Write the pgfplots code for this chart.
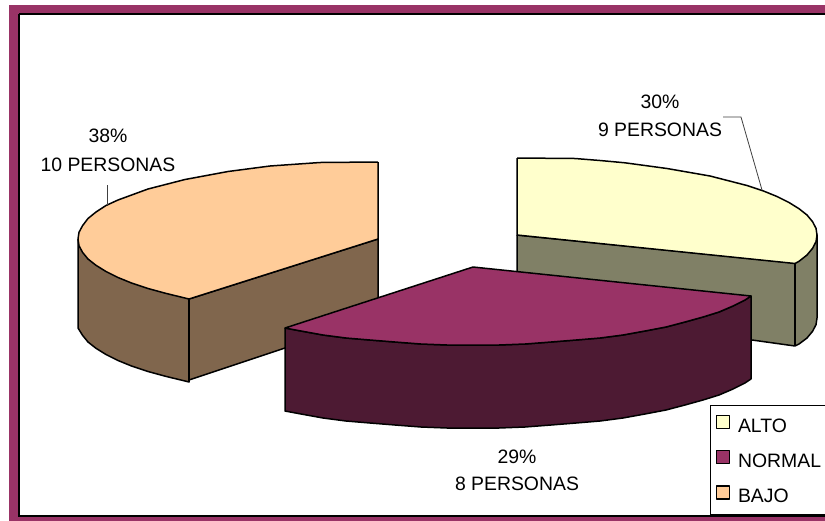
\documentclass[border=0pt]{standalone}
\usepackage{pgfplots}
\pgfplotsset{compat=1.18}
\usepackage{fontspec}
\setmainfont{Liberation Sans}
\definecolor{frameC}{HTML}{993366}
\definecolor{altoTop}{HTML}{FFFFCC}
\definecolor{altoSide}{HTML}{808066}
\definecolor{normalTop}{HTML}{993366}
\definecolor{normalSide}{HTML}{4D1A33}
\definecolor{bajoTop}{HTML}{FFCC99}
\definecolor{bajoSide}{HTML}{80664D}
\newcommand{\lab}{\fontsize{19.4}{23}\selectfont}
\pgfplotsset{
  swatch/.style={
    legend image code/.code={
      \draw[##1,line width=1.6pt] (0pt,-1.5pt) rectangle (13pt,11.5pt);
      \path (19pt,0pt);
    }
  },
  face/.style={mark=none,draw=black,line width=1.5pt,line join=round},
  leader/.style={mark=none,draw=black!75,line width=0.8pt,forget plot}
}
\begin{document}
\begin{tikzpicture}[x=1pt,y=1pt]
\path[use as bounding box] (0,0) rectangle (825pt,520pt);
\begin{axis}[
  at={(0,0)},anchor=south west,
  scale only axis,width=825pt,height=520pt,
  xmin=0,xmax=825,ymin=0,ymax=520,y dir=reverse,
  hide axis,
  legend cell align=left,
  legend style={
    at={(axis cs:710,405)},anchor=north west,
    draw=black,line width=1pt,fill=white,
    inner xsep=5pt,inner ysep=9pt,
    font=\lab,row sep=14.5pt,
    nodes={inner xsep=2pt,inner ysep=0pt,text height=14pt,text depth=3pt}
  }
]
% Chart frame
\addplot[mark=none,draw=none,fill=frameC,forget plot] coordinates {(9,5)(830,5)(830,525)(9,525)(9,5)};
\addplot[mark=none,draw=black,line width=2pt,fill=white,forget plot] coordinates {(19,14)(840,14)(840,516)(19,516)(19,14)};

% BAJO, side walls
\addplot[face,fill=bajoSide,forget plot] coordinates {
 (78,239)(78,328)(82.6,335.4)(88,342)(96,348.3)(106,354.5)(118,360.5)(132,366.2)(148,371.5)(166,376.4)(185,381)(189,382)
 (189,380)(378,317)(378,239)(189,299)(78,239)};
\addplot[face,forget plot] coordinates {(189,299)(189,382)};
% ALTO, side walls
\addplot[face,fill=altoSide,forget plot] coordinates {
 (517,235)(517,320)(752,340)(795,346)(799,344)(807,338)(812.5,331.4)(816,324.7)(817,318)(817,235)(795,263)(517,235)};
\addplot[face,forget plot] coordinates {(795,263)(795,346)};
% NORMAL, outer wall
\addplot[face,fill=normalSide,forget plot] coordinates {
 (285,328)(285,411)(301,414)(323,418)(346,421)(370,423)(395,425)(421,427)(447,428)(473,428)(499,428)(525,427)(551,425)(576,423)(600,421)(623,418)(645,414)(666,410)(685,405)(703,400)(719,395)(733,389)(745,383)(751,379)
 (751,296)(745,300)(733,306)(719,312)(703,317)(685,322)(666,327)(645,331)(623,335)(600,338)(576,340)(551,342)(525,344)(499,345)(473,345)(447,345)(421,344)(395,342)(370,340)(346,338)(323,335)(301,331)(285,328)};

% Upper faces, one per category
\addplot[face,fill=altoTop,swatch] coordinates {
 (517,158)(575,158.5)(600,160.5)(625,162.8)(667,168.5)(710,176)(747,185.5)(763,190.8)(777,196.5)(789,202.5)(799,208.7)(807,215)(812.5,221.6)(816,228.3)(817,235)(816,241.7)(812.5,248.4)(807,255)(799,261.3)(795,263.5)(517,235)(517,158)};
\addlegendentry{ALTO}
\addplot[face,fill=normalTop,swatch] coordinates {
 (473,267)(751,296)(745,300)(733,306)(719,312)(703,317)(685,322)(666,327)(645,331)(623,335)(600,338)(576,340)(551,342)(525,344)(499,345)(473,345)(447,345)(421,344)(395,342)(370,340)(346,338)(323,335)(301,331)(285,328)(473,267)};
\addlegendentry{NORMAL}
\addplot[face,fill=bajoTop,swatch] coordinates {
 (378,162)(320,162.5)(270,166)(228,171.5)(185,179.5)(148,189)(118,200)(106,205.5)(96,212)(88,218.5)(82.6,225.6)(79,232.3)(78,239)(79,245.7)(82.6,252.4)(88,259)(96,265.3)(106,271.5)(118,277.5)(132,283.2)(148,288.5)(166,293.4)(189,299)(378,239)(378,162)};
\addlegendentry{BAJO}

% Leader lines
\addplot[leader] coordinates {(723,117)(741,117)(762,190)};
\addplot[leader] coordinates {(107,185)(107,205)};

% Value labels
\node[font=\lab] at (axis cs:108,136) {38\%};
\node[font=\lab] at (axis cs:108,165) {10 PERSONAS};
\node[font=\lab] at (axis cs:660,102) {30\%};
\node[font=\lab] at (axis cs:660,130) {9 PERSONAS};
\node[font=\lab] at (axis cs:517,457) {29\%};
\node[font=\lab] at (axis cs:517,484) {8 PERSONAS};
\end{axis}
\end{tikzpicture}
\end{document}
